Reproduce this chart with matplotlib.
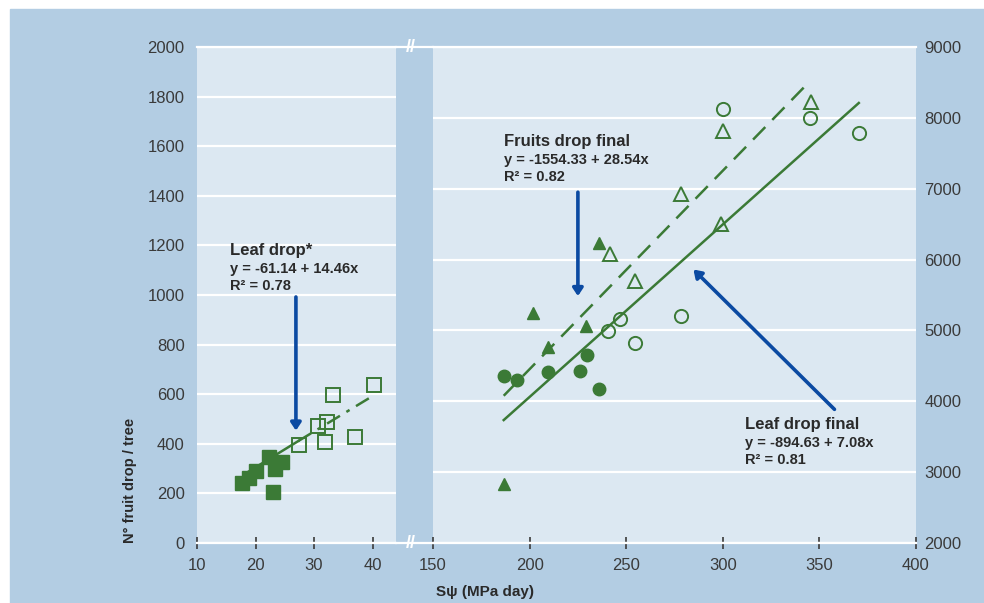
import numpy as np
import matplotlib.pyplot as plt
from matplotlib.patches import Rectangle
from matplotlib.lines import Line2D

# left panel: leaf drop (squares)
leaf_x_filled = [17.7, 18.9, 20.0, 22.3, 23.3, 24.6, 22.9]
leaf_y_filled = [240, 263, 291, 348, 298, 328, 206]
leaf_x_open = [27.5, 30.7, 32.2, 31.8, 33.2, 37.0, 40.2]
leaf_y_open = [395, 470, 487, 406, 595, 429, 636]
leaf_fit_x = [18.4, 27.3, 40.1]
leaf_fit_y = [282, 411, 594]

# right panel: fruits drop final (triangles), leaf drop final (circles)
fd_x_filled = [235.8, 201.9, 229.3, 209.4, 186.6]
fd_y_filled = [6227, 5240, 5065, 4769, 2828]
fd_x_open = [345.6, 300.2, 278.3, 298.9, 241.6, 254.6]
fd_y_open = [8225, 7811, 6932, 6509, 6072, 5695]
ld_x_filled = [186.9, 193.7, 209.5, 226.1, 229.9, 235.8]
ld_y_filled = [4351, 4295, 4408, 4426, 4652, 4172]
ld_x_open = [300.2, 345.3, 370.4, 240.5, 246.8, 254.6, 278.3]
ld_y_open = [8121, 7999, 7787, 4990, 5164, 4816, 5206]
fd_fit_x = [186.6, 344.4]
fd_fit_y = [4078, 8498]
ld_fit_x = [186.6, 370.4]
ld_fit_y = [3735, 8210]

left_xticks = [10, 20, 30, 40]
left_yticks = [0, 200, 400, 600, 800, 1000, 1200, 1400, 1600, 1800, 2000]
right_xticks = [150, 200, 250, 300, 350, 400]
right_yticks = [2000, 3000, 4000, 5000, 6000, 7000, 8000, 9000]

outer = '#b3cde3'
inner = '#dce8f2'
green = '#3b7a36'
blue = '#0b4aa2'
txt = '#2a2a2a'
tickc = '#3a3a3a'

plt.rcParams['font.family'] = ['Liberation Sans', 'DejaVu Sans']

W, H = 984, 603
fig = plt.figure(figsize=(W / 100, H / 100), dpi=100, facecolor='white')
fig.patches.append(Rectangle((10 / W, 0), (W - 10) / W, (H - 9) / H,
                             transform=fig.transFigure, color=outer, zorder=-5))

def px(x0, y0, x1, y1):
    return [x0 / W, (H - y1) / H, (x1 - x0) / W, (y1 - y0) / H]

ax1 = fig.add_axes(px(197, 47, 396, 543))
ax2 = fig.add_axes(px(433, 47, 916, 543))

for ax in (ax1, ax2):
    ax.set_facecolor(inner)
    for s in ('left', 'right'):
        ax.spines[s].set_visible(False)
    for s in ('top', 'bottom'):
        ax.spines[s].set_color('white')
        ax.spines[s].set_linewidth(1.6)
    ax.grid(axis='y', color='white', linewidth=1.6)
    ax.set_axisbelow(True)
    ax.tick_params(axis='x', direction='inout', length=9, width=1.2, color=tickc,
                   labelsize=12, labelcolor=tickc, pad=6)
    ax.tick_params(axis='y', length=0, labelsize=12, labelcolor=tickc)

# left panel
ax1.set_xlim(10, 44)
ax1.set_ylim(0, 2000)
ax1.set_xticks(left_xticks)
ax1.set_yticks(left_yticks)
ax1.tick_params(axis='y', pad=9)
ax1.plot(leaf_fit_x[:2], leaf_fit_y[:2], color=green, lw=1.8, zorder=2)
ax1.plot(leaf_fit_x[1:], leaf_fit_y[1:], color=green, lw=1.8, zorder=2,
         dashes=(6, 3, 1.5, 3))
ax1.plot(leaf_x_filled, leaf_y_filled, 's', color=green, ms=10, zorder=3)
ax1.plot(leaf_x_open, leaf_y_open, 's', mfc='none', mec=green, mew=1.4, ms=10, zorder=3)
ax1.annotate('', xy=(26.9, 453), xytext=(26.9, 992),
             arrowprops=dict(arrowstyle='-|>,head_length=0.45,head_width=0.3',
                             color=blue, lw=2.6, shrinkA=0, shrinkB=0))
ax1.text(15.6, 1178, 'Leaf drop*', fontsize=12, weight='bold', color=txt, va='center')
ax1.text(15.6, 1105, 'y = -61.14 + 14.46x', fontsize=10.5, weight='bold', color=txt, va='center')
ax1.text(15.6, 1036, 'R² = 0.78', fontsize=10.5, weight='bold', color=txt, va='center')

# right panel
ax2.set_xlim(150, 400)
ax2.set_ylim(2000, 9000)
ax2.set_xticks(right_xticks)
ax2.set_yticks(right_yticks)
ax2.yaxis.tick_right()
ax2.tick_params(axis='y', pad=6)
ax2.plot(fd_fit_x, fd_fit_y, color=green, lw=1.8, dashes=(7, 4), zorder=2)
ax2.plot(ld_fit_x, ld_fit_y, color=green, lw=1.8, zorder=2)
ax2.plot(fd_x_filled, fd_y_filled, '^', color=green, ms=9, zorder=3)
ax2.plot(fd_x_open, fd_y_open, '^', mfc='none', mec=green, mew=1.4, ms=10, zorder=3)
ax2.plot(ld_x_filled, ld_y_filled, 'o', color=green, ms=9, zorder=3)
ax2.plot(ld_x_open, ld_y_open, 'o', mfc='none', mec=green, mew=1.4, ms=9.5, zorder=3)
ax2.annotate('', xy=(225.0, 5484), xytext=(225.0, 6951),
             arrowprops=dict(arrowstyle='-|>,head_length=0.45,head_width=0.3',
                             color=blue, lw=2.6, shrinkA=0, shrinkB=0))
ax2.annotate('', xy=(284.8, 5860), xytext=(357.8, 3886),
             arrowprops=dict(arrowstyle='-|>,head_length=0.45,head_width=0.3',
                             color=blue, lw=2.6, shrinkA=0, shrinkB=0))
ax2.text(187.0, 7660, 'Fruits drop final', fontsize=12, weight='bold', color=txt, va='center')
ax2.text(187.0, 7402, 'y = -1554.33 + 28.54x', fontsize=10.5, weight='bold', color=txt, va='center')
ax2.text(187.0, 7162, 'R² = 0.82', fontsize=10.5, weight='bold', color=txt, va='center')
ax2.text(311.4, 3678, 'Leaf drop final', fontsize=12, weight='bold', color=txt, va='center')
ax2.text(311.4, 3410, 'y = -894.63 + 7.08x', fontsize=10.5, weight='bold', color=txt, va='center')
ax2.text(311.4, 3171, 'R² = 0.81', fontsize=10.5, weight='bold', color=txt, va='center')

# white lines across the break, with break marks
for yy in (47, 543):
    fig.add_artist(Line2D([396 / W, 433 / W], [(H - yy) / H] * 2, color='white', lw=1.6))
    fig.text(411 / W, (H - yy) / H, '//', color='white', fontsize=13, weight='bold',
             ha='center', va='center')

fig.text(130 / W, (H - 543) / H, 'N° fruit drop / tree', rotation=90, fontsize=10.5,
         weight='bold', color=txt, ha='center', va='bottom')
fig.text(436 / W, (H - 592) / H, 'Sψ (MPa day)', fontsize=11, weight='bold',
         color=txt, ha='left', va='center')

fig.savefig('out.png', dpi=100, facecolor='white')
